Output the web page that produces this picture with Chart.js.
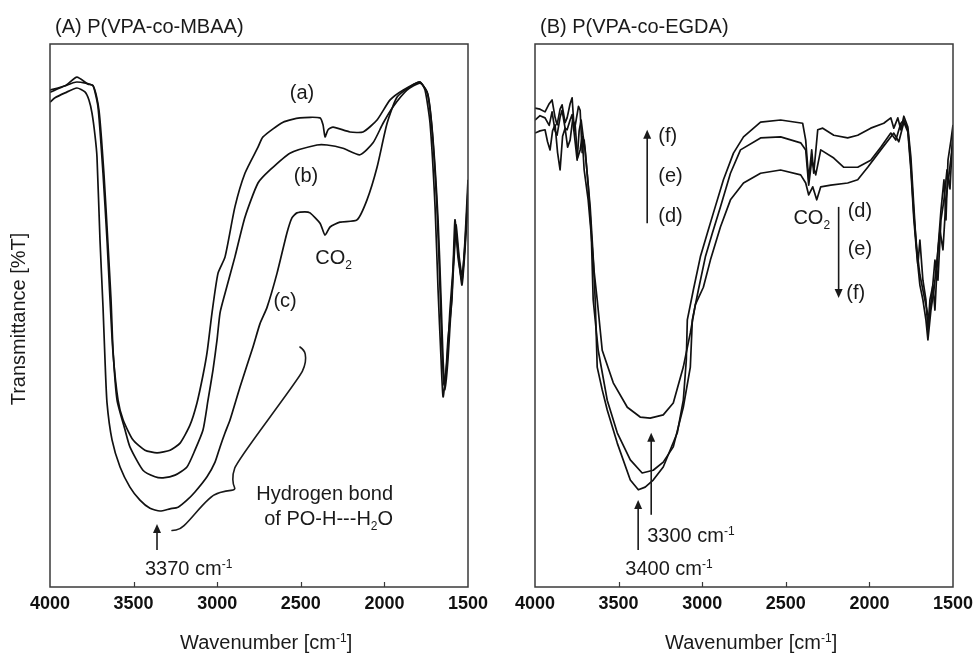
<!DOCTYPE html>
<html><head><meta charset="utf-8">
<script src="https://cdn.jsdelivr.net/npm/chart.js@4.4.1/dist/chart.umd.min.js"></script>
<style>
html,body{margin:0;padding:0;background:#fff;width:973px;height:653px;overflow:hidden;position:relative}
canvas{position:absolute;top:0}
#cA{left:0}
#cB{left:486px}
</style></head><body>
<canvas id="cA" width="500" height="653"></canvas>
<canvas id="cB" width="500" height="653"></canvas>
<script>
const FF = '"Liberation Sans", Arial, Helvetica, sans-serif';
const xTicks = [4000,3500,3000,2500,2000,1500];

// Panel A: P(VPA-co-MBAA)
const A_a_wn = [4000,3910,3839,3773,3743,3713,3683,3659,3641,3623,3593,3563,3504,3432,3360,3282,3222,3163,3121,3085,3061,3031,2995,2953,2894,2834,2756,2726,2606,2505,2385,2367,2355,2337,2307,2206,2128,2044,1966,1889,1787,1757,1727,1697,1679,1661,1649,1631,1620,1596,1578,1560,1536,1518,1500];
const A_a_T  = [91.5,92.3,93.9,92.6,92.4,88.4,76.2,63.9,52.9,43.1,34.4,30.8,27.1,25.2,24.7,25.2,26.5,29.8,33.9,39.0,43.1,50.5,57.8,60.8,70.0,76.2,81.0,82.9,85.6,86.4,86.4,85.1,82.9,84.2,84.7,83.8,83.8,86.0,89.7,91.5,93.0,91.5,85.4,70.0,54.7,41.8,35.0,40.0,45.5,52.9,67.6,60.8,56.5,63.9,75.0];
const A_b_wn = [4000,3910,3839,3743,3707,3677,3653,3635,3623,3599,3551,3522,3444,3372,3324,3252,3181,3133,3085,3055,3025,3001,2983,2953,2894,2834,2756,2684,2565,2403,2343,2248,2146,2068,2008,1949,1865,1787,1745,1715,1685,1667,1655,1643,1625,1608,1590,1572,1554,1536,1518,1500];
const A_b_T  = [91.1,92.3,93.0,92.3,87.8,75.9,63.0,52.9,43.6,34.4,28.9,25.8,21.5,20.3,20.1,20.6,22.1,25.2,28.9,34.4,40.0,45.5,50.5,54.1,60.8,68.1,74.4,76.8,79.9,81.4,81.4,80.8,79.6,81.8,85.4,88.4,91.5,92.8,91.2,84.2,69.4,54.7,43.6,37.2,41.8,51.0,58.4,66.7,61.1,57.5,63.0,73.1];
const A_c_wn = [4000,3970,3910,3839,3791,3767,3749,3731,3719,3701,3683,3671,3659,3629,3581,3522,3462,3402,3342,3282,3234,3181,3133,3061,3013,2983,2953,2923,2864,2786,2744,2702,2642,2583,2553,2523,2475,2445,2385,2355,2325,2266,2164,2104,2044,1984,1925,1847,1787,1739,1709,1679,1661,1649,1637,1620,1602,1584,1572,1554,1536,1518,1500];
const A_c_T  = [89.3,90.1,91.0,91.9,91.2,89.7,87.3,83.2,79.2,63.9,51.6,41.8,33.9,27.1,22.1,18.4,16.0,14.5,14.0,14.4,14.7,16.0,17.5,20.3,23.0,25.8,28.4,30.8,36.8,44.2,48.5,51.5,57.8,65.2,68.0,68.9,69.1,68.9,67.0,64.8,66.3,67.2,67.6,71.3,77.3,85.4,90.2,92.1,93.0,90.6,82.3,67.6,52.9,41.8,36.3,41.8,51.0,60.2,65.4,60.2,55.6,62.1,71.3];

// Panel B: P(VPA-co-EGDA)
const B_d_wn = [4000,3970,3940,3915,3898,3880,3868,3850,3838,3820,3808,3790,3778,3765,3754,3740,3730,3718,3706,3688,3670,3652,3640,3628,3598,3568,3508,3430,3382,3341,3293,3233,3149,3113,3095,3089,3053,3011,2969,2933,2873,2813,2753,2651,2531,2399,2381,2363,2345,2333,2309,2279,2213,2130,2070,1992,1914,1872,1854,1830,1812,1794,1770,1752,1734,1722,1710,1698,1680,1662,1650,1638,1620,1608,1590,1572,1554,1542,1530,1512,1500];
const B_d_T  = [88.2,88.0,87.5,89.0,89.7,86.5,85.1,88.0,88.8,85.5,86.4,89.0,90.1,84.0,86.0,88.5,87.8,80.0,82.3,76.2,70.0,60.8,52.9,40.5,36.3,32.6,26.5,19.7,17.9,18.4,19.7,22.1,28.4,34.4,41.8,49.2,54.7,60.8,65.2,68.9,75.0,79.9,82.9,85.6,86.0,85.4,82.3,75.0,80.5,76.2,84.2,84.5,83.2,82.7,83.2,84.5,85.4,86.4,84.5,86.4,84.2,86.7,84.7,79.2,70.0,63.9,59.3,63.9,56.5,52.9,47.3,52.9,55.6,51.0,62.1,69.4,75.0,67.6,78.6,82.3,85.1];
const B_e_wn = [4000,3970,3940,3915,3898,3880,3868,3850,3838,3820,3808,3790,3778,3760,3748,3736,3724,3712,3700,3682,3664,3652,3622,3568,3508,3430,3359,3293,3233,3173,3113,3071,3059,3023,2981,2939,2891,2831,2771,2651,2531,2411,2381,2363,2345,2321,2291,2213,2153,2070,1992,1932,1872,1842,1812,1794,1770,1752,1734,1716,1698,1680,1662,1644,1626,1608,1590,1572,1554,1536,1518,1500];
const B_e_T  = [86.0,86.8,86.4,85.0,87.5,84.0,83.2,86.5,87.8,84.5,84.2,86.0,87.0,82.0,78.6,84.0,86.0,83.0,80.5,74.0,65.7,52.9,43.6,34.4,28.4,23.4,21.0,21.5,23.0,25.8,33.1,40.5,49.2,54.7,60.8,65.2,70.0,76.2,80.5,82.7,82.9,81.8,80.5,74.0,78.6,75.9,80.5,79.0,77.3,77.3,78.6,81.0,83.6,82.3,85.4,86.0,84.2,77.7,68.5,62.1,57.5,54.7,51.9,49.2,53.8,60.2,56.5,67.6,71.3,76.8,73.3,84.2];
const B_f_wn = [4000,3970,3940,3925,3910,3895,3880,3865,3850,3835,3820,3805,3790,3775,3760,3745,3730,3718,3706,3682,3664,3646,3628,3598,3532,3448,3371,3311,3233,3173,3113,3071,3041,2993,2951,2891,2831,2753,2651,2531,2411,2381,2363,2339,2315,2291,2231,2130,2070,2010,1932,1854,1824,1794,1770,1752,1734,1716,1698,1680,1662,1650,1632,1614,1596,1578,1560,1542,1524,1500];
const B_f_T  = [83.6,84.0,84.2,82.0,80.5,84.0,85.1,80.0,76.8,83.0,84.5,81.0,82.3,86.0,85.1,79.0,80.5,83.0,76.8,71.3,65.0,58.0,52.9,43.6,37.6,33.1,31.3,31.1,31.7,33.9,40.5,46.8,52.0,55.2,60.2,66.3,71.3,74.4,76.2,76.8,75.9,74.4,72.2,73.7,71.3,73.7,74.0,74.4,75.0,77.3,80.5,83.6,82.0,85.6,83.8,76.8,67.6,61.1,55.6,52.9,49.2,45.5,51.0,54.7,60.2,65.7,62.1,71.3,75.9,82.3];

function zip(w,t){return w.map((x,i)=>({x:x, y:t[i]}));}

function richText(ctx, parts, x, y, align, size){
  const segs = parts.map(p=>{const s=(p.sub||p.sup)?Math.round(size*0.62):size; ctx.font=s+'px '+FF; return {p:p, s:s, w:ctx.measureText(p.t).width};});
  const total = segs.reduce((a,g)=>a+g.w,0);
  let cx = align==='right'? x-total : align==='center'? x-total/2 : x;
  const base = y + size*0.36;
  ctx.textAlign='left'; ctx.textBaseline='alphabetic';
  for(const g of segs){ ctx.font=g.s+'px '+FF; const dy = g.p.sub? size*0.25 : g.p.sup? -size*0.36 : 0; ctx.fillText(g.p.t, cx, base+dy); cx+=g.w; }
}
function arrow(ctx, x, yTail, yTip){
  const dir = yTip<yTail? 1 : -1, hl=9, hw=4;
  ctx.beginPath(); ctx.moveTo(x,yTail); ctx.lineTo(x, yTip+dir*hl*0.8); ctx.stroke();
  ctx.beginPath(); ctx.moveTo(x,yTip); ctx.lineTo(x-hw, yTip+dir*hl); ctx.lineTo(x+hw, yTip+dir*hl); ctx.closePath(); ctx.fill();
}

const annA = {
  fontSize: 20,
  title: '(A) P(VPA-co-MBAA)', titleX: 55,
  xTitleX: 180, yTitle: true,
  texts: [
    {parts:[{t:'(a)'}], x:2493, y:91.2, align:'center'},
    {parts:[{t:'(b)'}], x:2469, y:75.9, align:'center'},
    {parts:[{t:'CO'},{t:'2',sub:1}], x:2304, y:60.8, align:'center'},
    {parts:[{t:'(c)'}], x:2594, y:52.9, align:'center'},
    {parts:[{t:'Hydrogen bond'}], x:1948, y:17.3, align:'right'},
    {parts:[{t:'of PO-H---H'},{t:'2',sub:1},{t:'O'}], x:1948, y:12.7, align:'right'},
    {parts:[{t:'3370 cm'},{t:'-1',sup:1}], x:3432, y:3.5, align:'left'}
  ],
  arrows: [{x:3360, y0:6.8, y1:11.6}],
  brace: [[2505,44.2],[2478,43.6],[2469,42.2],[2477,40.6],[2505,38.8],[2882,23.0],[2908,20.8],[2905,18.8],[2888,17.9],[2947,17.7],[3019,17.1],[3085,15.2],[3175,12.0],[3222,10.6],[3270,10.4]]
};
const annB = {
  fontSize: 20,
  title: '(B) P(VPA-co-EGDA)', titleX: 54,
  xTitleX: 179, yTitle: false,
  texts: [
    {parts:[{t:'(f)'}], x:3263, y:83.2, align:'left'},
    {parts:[{t:'(e)'}], x:3263, y:75.9, align:'left'},
    {parts:[{t:'(d)'}], x:3263, y:68.5, align:'left'},
    {parts:[{t:'CO'},{t:'2',sub:1}], x:2345, y:68.1, align:'center'},
    {parts:[{t:'(d)'}], x:2130, y:69.4, align:'left'},
    {parts:[{t:'(e)'}], x:2130, y:62.4, align:'left'},
    {parts:[{t:'(f)'}], x:2138, y:54.3, align:'left'},
    {parts:[{t:'3300 cm'},{t:'-1',sup:1}], x:3329, y:9.6, align:'left'},
    {parts:[{t:'3400 cm'},{t:'-1',sup:1}], x:3460, y:3.5, align:'left'}
  ],
  arrows: [{x:3329, y0:67.0, y1:84.2},{x:2184, y0:70.0, y1:53.2},{x:3383, y0:6.8, y1:16.0},{x:3305, y0:13.3, y1:28.4}],
  brace: null
};

function makeDecor(spec){
  return {id:'decor', afterDraw(chart){
    const ctx=chart.ctx, a=chart.chartArea, xs=chart.scales.x, ys=chart.scales.y;
    ctx.save();
    ctx.strokeStyle='#3a3a3a'; ctx.lineWidth=1.5;
    ctx.strokeRect(a.left, a.top, a.right-a.left, a.bottom-a.top);
    ctx.lineWidth=1.2;
    xTicks.slice(1,-1).forEach(v=>{const px=Math.round(xs.getPixelForValue(v))+0.5; ctx.beginPath(); ctx.moveTo(px,a.bottom); ctx.lineTo(px,a.bottom-5); ctx.stroke();});
    ctx.fillStyle='#1a1a1a'; ctx.strokeStyle='#1a1a1a'; ctx.lineWidth=1.6;
    spec.texts.forEach(t=>richText(ctx,t.parts,xs.getPixelForValue(t.x),ys.getPixelForValue(t.y),t.align,spec.fontSize));
    spec.arrows.forEach(r=>arrow(ctx, xs.getPixelForValue(r.x), ys.getPixelForValue(r.y0), ys.getPixelForValue(r.y1)));
    if(spec.brace){
      const pts = spec.brace.map(p=>[xs.getPixelForValue(p[0]), ys.getPixelForValue(p[1])]);
      ctx.beginPath(); ctx.moveTo(pts[0][0], pts[0][1]);
      for(let i=1;i<pts.length-1;i++){
        const mx=(pts[i][0]+pts[i+1][0])/2, my=(pts[i][1]+pts[i+1][1])/2;
        ctx.quadraticCurveTo(pts[i][0], pts[i][1], mx, my);
      }
      const L=pts[pts.length-1]; ctx.lineTo(L[0], L[1]);
      ctx.lineJoin='round'; ctx.lineCap='round'; ctx.stroke();
    }
    ctx.fillStyle='#1a1a1a';
    richText(ctx,[{t:spec.title}], spec.titleX, 26, 'left', 20);
    richText(ctx,[{t:'Wavenumber [cm'},{t:'-1',sup:1},{t:']'}], spec.xTitleX, 642, 'left', 20);
    if(spec.yTitle){
      ctx.save(); ctx.translate(18,319); ctx.rotate(-Math.PI/2);
      richText(ctx,[{t:'Transmittance [%T]'}], 0, 0, 'center', 20);
      ctx.restore();
    }
    ctx.restore();
  }};
}

function ds(w,t,tension){
  return {data:zip(w,t), borderColor:'#111', borderWidth:1.7, pointRadius:0, fill:false, tension:tension, borderJoinStyle:'round'};
}
function makeChart(id, sets, spec, padLeft){
  return new Chart(document.getElementById(id), {
    type:'line',
    data:{datasets:sets},
    options:{
      responsive:false, animation:false, events:[],
      layout:{padding:{left:padLeft, right:500-padLeft-418, top:44, bottom:0}},
      plugins:{legend:{display:false}, title:{display:false}, tooltip:{enabled:false}},
      scales:{
        x:{type:'linear', reverse:true, min:1500, max:4000,
           afterFit(s){ s.height=66; },
           afterBuildTicks(s){ s.ticks = xTicks.map(v=>({value:v})); },
           grid:{display:false, drawTicks:false}, border:{display:false},
           ticks:{padding:6, color:'#111', autoSkip:false, maxRotation:0, font:{family:FF, size:18, weight:'bold'}, callback:v=>String(v)}},
        y:{display:false, min:0, max:100}
      }
    },
    plugins:[makeDecor(spec)]
  });
}
makeChart('cA', [ds(A_a_wn,A_a_T,0.2), ds(A_b_wn,A_b_T,0.2), ds(A_c_wn,A_c_T,0.2)], annA, 50);
makeChart('cB', [ds(B_d_wn,B_d_T,0), ds(B_e_wn,B_e_T,0), ds(B_f_wn,B_f_T,0)], annB, 49);
</script>
</body></html>
